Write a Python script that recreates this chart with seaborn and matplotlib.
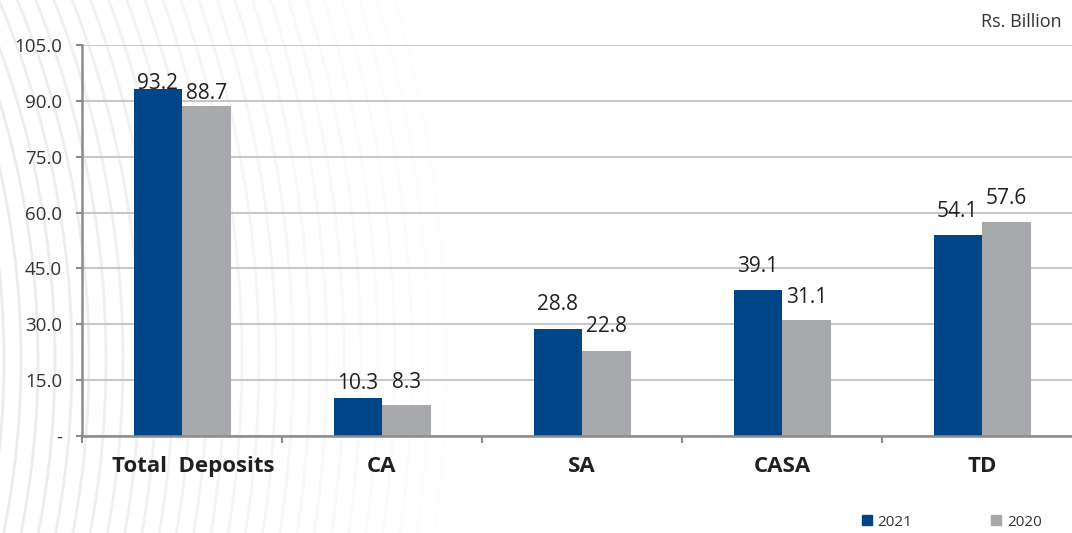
import numpy as np
import pandas as pd
import matplotlib
matplotlib.use("Agg")
import matplotlib.pyplot as plt
import matplotlib.transforms as mtransforms
import seaborn as sns
from matplotlib.lines import Line2D
from matplotlib.ticker import FuncFormatter

# Deposit mix, Rs. Billion
categories = ["Total  Deposits", "CA", "SA", "CASA", "TD"]
years = ["2021", "2020"]
deposits_2021 = [93.2, 10.3, 28.8, 39.1, 54.1]
deposits_2020 = [88.7, 8.3, 22.8, 31.1, 57.6]
y_ticks = [0, 15, 30, 45, 60, 75, 90, 105]
unit_label = "Rs. Billion"

BLUE = "#004587"
GREY = "#a7a9ac"
TEXT = "#231f20"
AXIS = "#8c8c8c"

sns.set_theme(style="white")
plt.rcParams["font.family"] = ["Open Sans", "DejaVu Sans"]

df = pd.DataFrame({
    "category": categories * 2,
    "year": [years[0]] * len(categories) + [years[1]] * len(categories),
    "value": deposits_2021 + deposits_2020,
})
values_by_year = {years[0]: deposits_2021, years[1]: deposits_2020}

W, H = 1072, 533
fig = plt.figure(figsize=(W / 100, H / 100), dpi=100)
fig.patch.set_facecolor("white")

# Decorative background: faint concentric arcs fading to the right
bg = fig.add_axes([0, 0, 1, 1], zorder=0)
bg.set_xlim(0, W)
bg.set_ylim(H, 0)
bg.axis("off")
theta = np.linspace(-np.pi / 2, np.pi / 2, 600)
xc, yc = -850, 360
for r in np.arange(820, 1320, 17):
    a = float(np.clip(1 - (r - 850) / 470, 0, 1))
    if a <= 0:
        continue
    bg.plot(xc + r * np.cos(theta), yc + r * np.sin(theta),
            color="#ebebeb", lw=2.0, alpha=a, solid_capstyle="butt")

# Main chart
ax = fig.add_axes([82 / W, 97 / H, 1000 / W, 391 / H], zorder=1)
ax.patch.set_alpha(0)

sns.barplot(data=df, x="category", y="value", hue="year",
            order=categories, hue_order=years,
            palette={years[0]: BLUE, years[1]: GREY},
            width=0.485, gap=0, saturation=1, linewidth=0,
            legend=False, ax=ax)

ax.set_xlim(-0.5, len(categories) - 0.5)
ax.set_ylim(0, 105)
ax.set_yticks(y_ticks)
ax.yaxis.set_major_formatter(FuncFormatter(lambda v, _: "-" if v == 0 else f"{v:.1f}"))
ax.yaxis.grid(True, color="#c8c8c8", lw=1.5)
ax.xaxis.grid(False)
ax.set_axisbelow(True)
ax.set_xlabel("")
ax.set_ylabel("")

# Category labels centred, tick marks on the group boundaries
ax.set_xticks(range(len(categories)))
ax.set_xticklabels(categories, fontsize=16, fontweight="bold", color=TEXT)
ax.set_xticks(np.arange(-0.5, len(categories), 1), minor=True)
ax.tick_params(axis="x", which="major", length=0, pad=14.5)
ax.tick_params(axis="x", which="minor", length=5, width=1.5, color=AXIS,
               direction="out", bottom=True)
ax.tick_params(axis="y", length=4.3, width=1.5, color=AXIS, direction="out",
               left=True, labelsize=13.5, labelcolor="#333333", pad=10)

# the two-word label sits a little right of its group centre
first = ax.get_xticklabels()[0]
first.set_transform(first.get_transform() +
                    mtransforms.ScaledTranslation(11 / 100, 0, fig.dpi_scale_trans))

for side in ("top", "right"):
    ax.spines[side].set_visible(False)
for side in ("left", "bottom"):
    ax.spines[side].set_color(AXIS)
    ax.spines[side].set_linewidth(1.8)

# Value labels above each bar (gap in pixels)
label_gap_px = {years[0]: [0, 9, 19, 18, 18], years[1]: [7, 17, 19, 17, 18]}
for container, year in zip(ax.containers, years):
    for bar, val, gap in zip(container, values_by_year[year], label_gap_px[year]):
        ax.annotate(f"{val:.1f}", (bar.get_x() + bar.get_width() / 2, val),
                    xytext=(0, gap * 0.72), textcoords="offset points",
                    ha="center", va="baseline", fontsize=15, color=TEXT,
                    annotation_clip=False)

fig.text(1062 / W, 1 - 22 / H, unit_label, ha="right", va="center",
         fontsize=13, color="#333333")

handles = [Line2D([], [], marker="s", ls="none", markersize=6.5,
                  markerfacecolor=c, markeredgecolor=c) for c in (BLUE, GREY)]
fig.legend(handles, years, ncol=2, frameon=False, loc="center left",
           bbox_to_anchor=(862 / W, 11 / H), borderpad=0, borderaxespad=0,
           handlelength=0.6, handletextpad=0.4, columnspacing=5.2,
           fontsize=11, labelcolor="#333333")

fig.savefig("out.png", dpi=100)
